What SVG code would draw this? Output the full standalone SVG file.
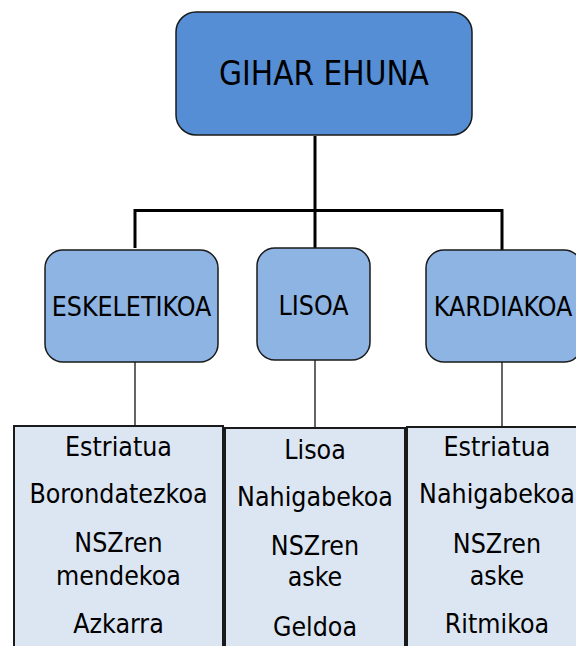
<svg xmlns="http://www.w3.org/2000/svg" width="576" height="646" viewBox="0 0 576 646">
  <style>
    .txt { font-family: "DejaVu Sans Condensed", "DejaVu Sans", sans-serif; fill: #000; text-anchor: middle; }
    .root { fill: #558ED5; stroke: #1a1a1a; stroke-width: 1.5; }
    .mid { fill: #8EB4E3; stroke: #1a1a1a; stroke-width: 1.5; }
    .leaf { fill: #DCE6F2; stroke: #1a1a1a; stroke-width: 2; }
    .thick { stroke: #000; stroke-width: 3; fill: none; }
    .thin { stroke: #000; stroke-width: 1.2; fill: none; }
    .big { font-size: 33px; }
    .lbl { font-size: 26.5px; }
    .item { font-size: 26.5px; }
  </style>

  <g id="connectors">
    <path class="thick" d="M315 136 V210.5 M135 248 V210.5 H502 V250 M315 210.5 V248"/>
    <path class="thin" d="M135 362 V426 M315 360 V428 M502 362 V427"/>
  </g>

  <g id="gihar-ehuna">
    <rect class="root" x="176" y="12" width="296" height="123" rx="20"/>
    <text class="txt big" x="324" y="85">GIHAR EHUNA</text>
  </g>

  <g id="eskeletikoa">
    <rect class="mid" x="45" y="250" width="173" height="112" rx="18"/>
    <text class="txt lbl" x="131.5" y="316">ESKELETIKOA</text>
  </g>
  <g id="lisoa">
    <rect class="mid" x="257" y="248" width="113" height="112" rx="18"/>
    <text class="txt lbl" x="313.5" y="315">LISOA</text>
  </g>
  <g id="kardiakoa">
    <rect class="mid" x="426" y="250" width="156" height="112" rx="18"/>
    <text class="txt lbl" x="503" y="316">KARDIAKOA</text>
  </g>

  <g id="eskeletikoa-ezaugarriak">
    <rect class="leaf" x="14" y="426" width="209" height="232"/>
    <text class="txt item" x="118.5" y="456">Estriatua</text>
    <text class="txt item" x="118.5" y="503">Borondatezkoa</text>
    <text class="txt item" x="118.5" y="552">NSZren</text>
    <text class="txt item" x="118.5" y="585">mendekoa</text>
    <text class="txt item" x="118.5" y="633">Azkarra</text>
  </g>
  <g id="lisoa-ezaugarriak">
    <rect class="leaf" x="225" y="428" width="180" height="232"/>
    <text class="txt item" x="315" y="459">Lisoa</text>
    <text class="txt item" x="315" y="506">Nahigabekoa</text>
    <text class="txt item" x="315" y="555">NSZren</text>
    <text class="txt item" x="315" y="586">aske</text>
    <text class="txt item" x="315" y="636">Geldoa</text>
  </g>
  <g id="kardiakoa-ezaugarriak">
    <rect class="leaf" x="407" y="427" width="180" height="232"/>
    <text class="txt item" x="497" y="456">Estriatua</text>
    <text class="txt item" x="497" y="503">Nahigabekoa</text>
    <text class="txt item" x="497" y="553">NSZren</text>
    <text class="txt item" x="497" y="585">aske</text>
    <text class="txt item" x="497" y="633">Ritmikoa</text>
  </g>
</svg>
